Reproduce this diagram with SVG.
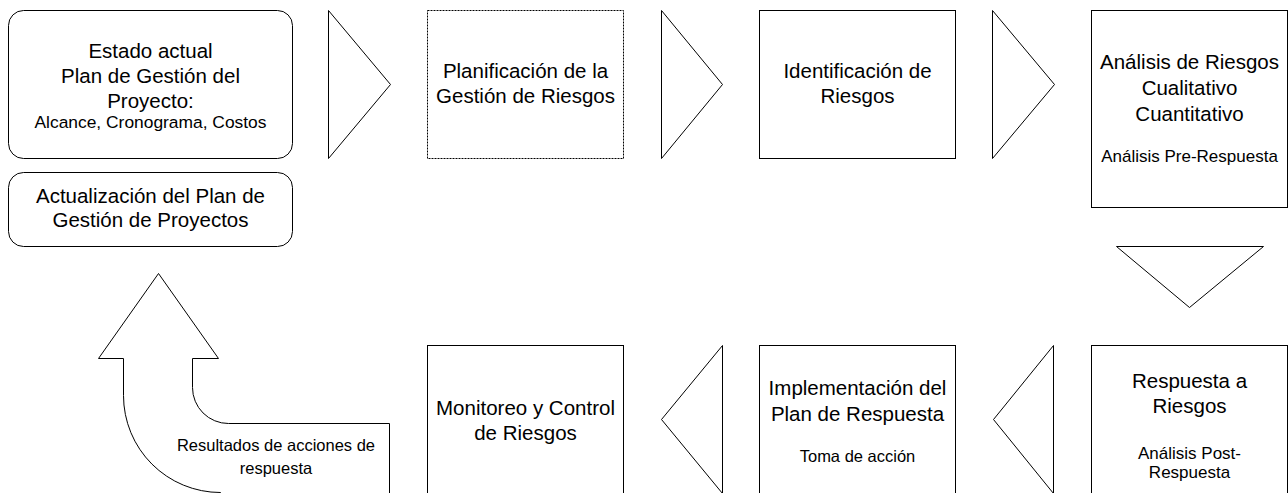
<svg xmlns="http://www.w3.org/2000/svg" width="1288" height="493" viewBox="0 0 1288 493">
<style>
.box{fill:#fff;stroke:#000;stroke-width:1}
.dot{fill:#fff;stroke:#000;stroke-width:1;stroke-dasharray:2 1}
.tri{fill:#fff;stroke:#000;stroke-width:1;stroke-linejoin:miter}
text{font-family:"Liberation Sans",Arial,sans-serif;fill:#000;text-anchor:middle}
.m{font-size:20.5px}
.s{font-size:17px}
.r{font-size:16.5px}
</style>
<rect width="1288" height="493" fill="#fff"/>
<g id="connectors">
<polygon class="tri" points="328.5,10.5 328.5,158.5 390.5,84.5"/>
<polygon class="tri" points="661.5,10.5 661.5,158.5 722.5,84.5"/>
<polygon class="tri" points="992.5,10.5 992.5,158.5 1054.5,84.5"/>
<polygon class="tri" points="1116.5,246.5 1263.5,246.5 1189.5,307.5"/>
<polygon class="tri" points="1053.5,345.5 1053.5,493.5 993.5,419.5"/>
<polygon class="tri" points="722.5,345.5 722.5,493.5 661.5,419.5"/>
<g id="feedback-arrow">
<path class="tri" d="M158.5,273.5 L218.5,358.5 L192.5,358.5 L192.5,387.5 A36,36 0 0 0 228.5,423.5 L389.5,423.5 L389.5,500 L220.5,500 L220.5,492.5 A97,97 0 0 1 123.5,395.5 L123.5,358.5 L98.5,358.5 Z"/>
<text class="r" x="276" y="451">Resultados de acciones de</text>
<text class="r" x="276" y="474">respuesta</text>
</g>
</g>
<g id="estado-actual">
<rect class="box" x="8.5" y="10.5" width="284" height="148" rx="15" ry="15"/>
<text class="m" x="150.5" y="58">Estado actual</text>
<text class="m" x="150.5" y="83">Plan de Gestión del</text>
<text class="m" x="150.5" y="108">Proyecto:</text>
<text class="s" x="150.5" y="128" style="font-size:17.4px">Alcance, Cronograma, Costos</text>
</g>
<g id="actualizacion">
<rect class="box" x="8.5" y="172.5" width="284" height="74" rx="15" ry="15"/>
<text class="m" x="150.5" y="203">Actualización del Plan de</text>
<text class="m" x="150.5" y="227">Gestión de Proyectos</text>
</g>
<g id="planificacion">
<rect class="dot" x="427.5" y="10.5" width="196" height="148"/>
<text class="m" x="525.5" y="78">Planificación de la</text>
<text class="m" x="525.5" y="103">Gestión de Riesgos</text>
</g>
<g id="identificacion">
<rect class="box" x="759.5" y="10.5" width="196" height="148"/>
<text class="m" x="857.5" y="78">Identificación de</text>
<text class="m" x="857.5" y="103">Riesgos</text>
</g>
<g id="analisis">
<rect class="box" x="1091.5" y="10.5" width="196" height="197"/>
<text class="m" x="1189.5" y="69">Análisis de Riesgos</text>
<text class="m" x="1189.5" y="95">Cualitativo</text>
<text class="m" x="1189.5" y="121">Cuantitativo</text>
<text class="s" x="1189.5" y="162">Análisis Pre-Respuesta</text>
</g>
<g id="respuesta">
<rect class="box" x="1091.5" y="345.5" width="196" height="160"/>
<text class="m" x="1189.5" y="388">Respuesta a</text>
<text class="m" x="1189.5" y="413">Riesgos</text>
<text class="s" x="1189.5" y="459">Análisis Post-</text>
<text class="s" x="1189.5" y="478">Respuesta</text>
</g>
<g id="implementacion">
<rect class="box" x="759.5" y="345.5" width="196" height="160"/>
<text class="m" x="857.5" y="395">Implementación del</text>
<text class="m" x="857.5" y="421">Plan de Respuesta</text>
<text class="r" x="857.5" y="462">Toma de acción</text>
</g>
<g id="monitoreo">
<rect class="box" x="427.5" y="345.5" width="196" height="160"/>
<text class="m" x="525.5" y="415">Monitoreo y Control</text>
<text class="m" x="525.5" y="440">de Riesgos</text>
</g>
</svg>
